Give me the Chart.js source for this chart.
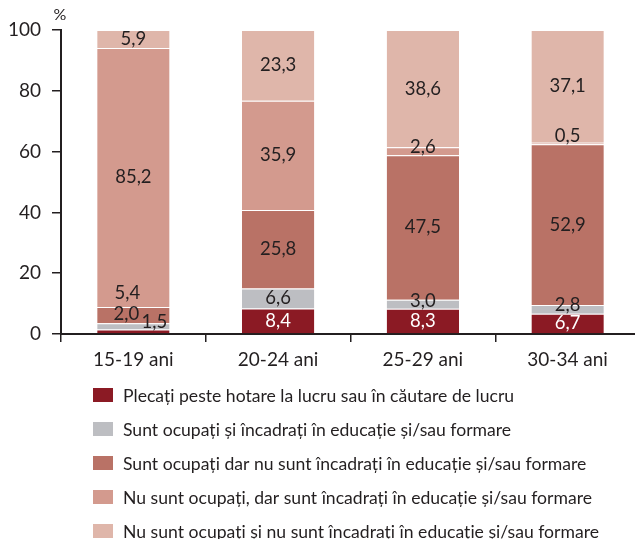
<!DOCTYPE html>
<html>
<head>
<meta charset="utf-8">
<script src="https://cdn.jsdelivr.net/npm/chart.js@4"></script>
<style>
  html, body { margin: 0; padding: 0; background: #fff; overflow: hidden; }
  #wrap { width: 640px; height: 539px; }
</style>
</head>
<body>
<div id="wrap"><canvas id="chart" width="640" height="539"></canvas></div>
<script>
// Data
const categories = ["15-19 ani", "20-24 ani", "25-29 ani", "30-34 ani"];
const seriesNames = [
  "Plecați peste hotare la lucru sau în căutare de lucru",
  "Sunt ocupați și încadrați în educație și/sau formare",
  "Sunt ocupați dar nu sunt încadrați în educație și/sau formare",
  "Nu sunt ocupați, dar sunt încadrați în educație și/sau formare",
  "Nu sunt ocupați și nu sunt încadrați în educație și/sau formare"
];
const abroad = [1.5, 8.4, 8.3, 6.7];
const workStudy = [2.0, 6.6, 3.0, 2.8];
const workOnly = [5.4, 25.8, 47.5, 52.9];
const studyOnly = [85.2, 35.9, 2.6, 0.5];
const neither = [5.9, 23.3, 38.6, 37.1];
const yTicks = [0, 20, 40, 60, 80, 100];

// Styles
const colors = ["#8b1a24", "#bdbec2", "#b97266", "#d39a8e", "#dfb6aa"];
const ink = "#231f20";
const labelColors = [
  [ink, "#fff", "#fff", "#fff"],
  [ink, ink, ink, ink],
  [ink, ink, ink, ink],
  [ink, ink, ink, ink],
  [ink, ink, ink, ink]
];
// label nudges [dx, dy] where the original moved them off centre
const labelShift = [
  [[21, -9], [0, 0], [0, 0], [0, 0]],
  [[-7, -12], [0, 0], [0, -3], [0, -4]],
  [[-6, -22], [0, 0], [0, 0], [0, 0]],
  [[0, 0], [0, 0], [0, -4], [0, -8]],
  [[0, 0], [0, 0], [0, 0], [0, 0]]
];
const FONT = "Lato, 'DejaVu Sans', sans-serif";

const values = [abroad, workStudy, workOnly, studyOnly, neither];

// value labels inside the bars
const valueLabels = {
  id: "valueLabels",
  afterDatasetsDraw(chart) {
    const ctx = chart.ctx;
    ctx.save();
    ctx.font = "18.5px " + FONT;
    ctx.textAlign = "center";
    ctx.textBaseline = "middle";
    chart.data.datasets.forEach((ds, di) => {
      chart.getDatasetMeta(di).data.forEach((bar, i) => {
        const v = ds.data[i];
        const s = labelShift[di][i];
        ctx.fillStyle = labelColors[di][i];
        ctx.fillText(v.toFixed(1).replace(".", ","), bar.x + s[0], (bar.y + bar.base) / 2 + s[1]);
      });
    });
    ctx.restore();
  }
};

// vertical legend + percent sign
const sideText = {
  id: "sideText",
  afterDraw(chart) {
    const ctx = chart.ctx;
    ctx.save();
    ctx.fillStyle = ink;
    ctx.font = "16px " + FONT;
    ctx.textAlign = "center";
    ctx.textBaseline = "middle";
    ctx.fillText("%", 60, 15);
    ctx.font = "17.6px " + FONT;
    ctx.textAlign = "left";
    chart.data.datasets.forEach((ds, i) => {
      const y = 395 + i * 34;
      ctx.fillStyle = ds.backgroundColor;
      ctx.fillRect(93, y - 7, 20, 14);
      ctx.fillStyle = ink;
      ctx.fillText(ds.label, 123, y + 1);
    });
    ctx.restore();
  }
};

new Chart(document.getElementById("chart"), {
  type: "bar",
  data: {
    labels: categories,
    datasets: values.map((arr, i) => ({
      label: seriesNames[i],
      data: arr,
      backgroundColor: colors[i],
      borderColor: "rgba(255,255,255,0.45)",
      borderWidth: { top: 1, bottom: 0, left: 0, right: 0 },
      borderSkipped: false,
      barPercentage: 0.5,
      categoryPercentage: 1
    }))
  },
  options: {
    responsive: false,
    animation: false,
    layout: { padding: { left: 0, right: 0, top: 30, bottom: 165 } },
    plugins: { legend: { display: false }, tooltip: { enabled: false } },
    scales: {
      x: {
        stacked: true,
        grid: { display: true, drawOnChartArea: false, drawTicks: true, tickLength: 8, color: ink, lineWidth: 1.5 },
        border: { display: true, color: ink, width: 2 },
        ticks: { color: ink, font: { family: FONT, size: 19 }, padding: 6, maxRotation: 0 },
        afterFit(scale) { scale.height = 40; }
      },
      y: {
        stacked: true,
        min: 0,
        max: 100,
        afterBuildTicks(scale) { scale.ticks = yTicks.map(v => ({ value: v })); },
        grid: { display: true, drawOnChartArea: false, drawTicks: true, tickLength: 9, color: ink, lineWidth: 1.5 },
        border: { display: true, color: ink, width: 2 },
        ticks: { color: ink, font: { family: FONT, size: 19 }, padding: 11 },
        afterFit(scale) { scale.width = 61; }
      }
    }
  },
  plugins: [valueLabels, sideText]
});
</script>
</body>
</html>
